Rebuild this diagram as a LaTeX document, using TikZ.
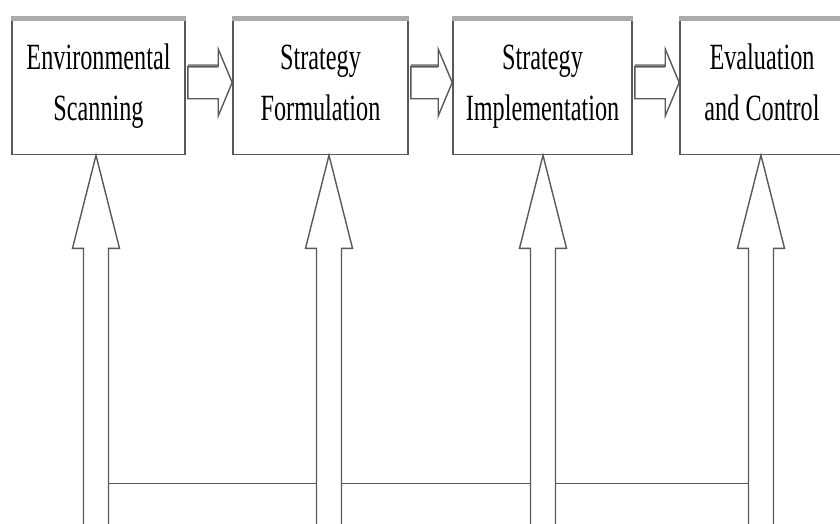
\documentclass[tikz,border=0pt]{standalone}
\usepackage{fontspec}
\newfontfamily\boxfont[FakeStretch=0.655]{Liberation Serif}
\usetikzlibrary{calc}
\newcommand\lstrut{\rule[-9pt]{0pt}{35pt}}
\newcommand\hblock[2]{%
  \draw[shafttop] let \p1=(#1.east), \p2=(#2.west) in
    (\x1+2pt,\y2+20.75pt) -- (\x2-14pt,\y2+20.75pt);
  \draw[blk] let \p1=(#1.east), \p2=(#2.west) in
    (\x1+2pt,\y2+20.75pt) -- (\x2-14pt,\y2+20.75pt) -- (\x2-14pt,\y2+38pt)
    -- (\x2,\y2+4.5pt) -- (\x2-14pt,\y2-29pt) -- (\x2-14pt,\y2-11.75pt)
    -- (\x1+2pt,\y2-11.75pt) -- cycle;}
\newcommand\vblock[2]{%
  \draw[blk] let \p1=(#1), \p2=(#2) in
    (\x1-12.5pt,\y2) -- (\x1-12.5pt,\y1-93pt) -- (\x1-23.5pt,\y1-93pt)
    -- (\x1,\y1) -- (\x1+23.5pt,\y1-93pt) -- (\x1+12.5pt,\y1-93pt)
    -- (\x1+12.5pt,\y2);}
\begin{document}
\begin{tikzpicture}[x=1pt,y=-1pt,
  box/.style={draw=black!65, line width=1.6pt, rectangle, inner sep=0pt,
    minimum height=135pt, align=center,
    font=\boxfont\fontsize{37}{51}\selectfont, text=black},
  band/.style={draw=black!33, line width=5pt},
  blk/.style={draw=black!65, line width=1.4pt, line join=miter},
  shafttop/.style={draw=black!38, line width=3.5pt}]
\useasboundingbox (0,0) rectangle (840,524);
\fill[white] (0,0) rectangle (840,524);
\node[box, minimum width=173pt] (b1) at (98.5,87) {\lstrut Environmental\\\lstrut Scanning};
\node[box, minimum width=175pt] (b2) at (320.5,87) {\lstrut Strategy\\\lstrut Formulation};
\node[box, minimum width=179pt] (b3) at (542.5,87) {\lstrut Strategy\\\lstrut Implementation};
\node[box, minimum width=164pt] (b4) at (762,87) {\lstrut Evaluation\\\lstrut and Control};
\foreach \b in {b1,b2,b3,b4}{\draw[band] (\b.north west) -- (\b.north east);}
\hblock{b1}{b2}
\hblock{b2}{b3}
\hblock{b3}{b4}
\coordinate (t1) at ($(b1.south)+(-2.5,0)$);
\coordinate (t2) at ($(b2.south)+(8.5,0)$);
\coordinate (t3) at ($(b3.south)+(0.5,0)$);
\coordinate (t4) at ($(b4.south)+(-1,0)$);
\foreach \i in {1,2,3,4}{\coordinate (e\i) at ($(t\i)+(0,372)$);}
\vblock{t1}{e1}
\vblock{t2}{e2}
\vblock{t3}{e3}
\vblock{t4}{e4}
\foreach \i in {1,2,3,4}{
  \coordinate (jl\i) at ($(t\i)+(-12.5,328)$);
  \coordinate (jr\i) at ($(t\i)+(12.5,328)$);}
\draw[blk] (jr1) -- (jl2);
\draw[blk] (jr2) -- (jl3);
\draw[blk] (jr3) -- (jl4);
\end{tikzpicture}
\end{document}
